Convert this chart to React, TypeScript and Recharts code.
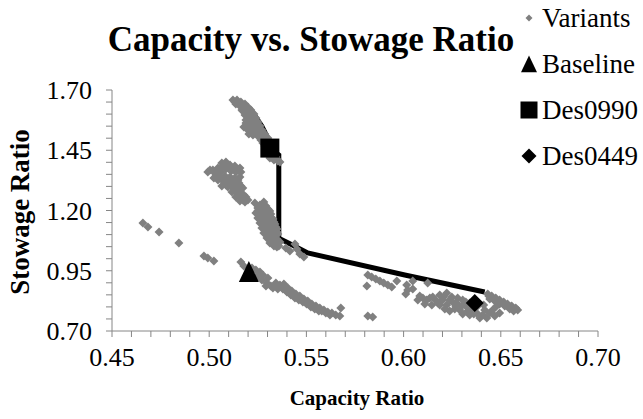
import { ScatterChart, Scatter, XAxis, YAxis } from "recharts";

// tick positions (minor every 0.01 / 0.05) and which ones get a label
const xTicks = [0.45, 0.46, 0.47, 0.48, 0.49, 0.5, 0.51, 0.52, 0.53, 0.54, 0.55, 0.56, 0.57, 0.58, 0.59, 0.6, 0.61, 0.62, 0.63, 0.64, 0.65, 0.66, 0.67, 0.68, 0.69, 0.7];
const xLabels = [0.45, 0.5, 0.55, 0.6, 0.65, 0.7];
const yTicks = [0.7, 0.75, 0.8, 0.85, 0.9, 0.95, 1.0, 1.05, 1.1, 1.15, 1.2, 1.25, 1.3, 1.35, 1.4, 1.45, 1.5, 1.55, 1.6, 1.65, 1.7];
const yLabels = [0.7, 0.95, 1.2, 1.45, 1.7];

// variants, grouped by the clusters seen in the picture: [capacity, stowage]
const upperBand = [
  [0.5122, 1.6585], [0.5143, 1.6585], [0.5163, 1.6502], [0.5137, 1.6419], [0.5158, 1.6336], [0.5184, 1.6419],
  [0.5178, 1.6253], [0.5199, 1.6295], [0.5173, 1.6129], [0.5194, 1.6087], [0.5214, 1.617], [0.5209, 1.5963],
  [0.523, 1.6004], [0.5199, 1.5838], [0.5225, 1.5797], [0.524, 1.5838], [0.5189, 1.563], [0.5209, 1.5548],
  [0.523, 1.563], [0.525, 1.5672], [0.5178, 1.5465], [0.5199, 1.534], [0.5225, 1.5423], [0.5245, 1.5465],
  [0.5261, 1.5506], [0.5204, 1.5174], [0.5235, 1.5257], [0.5256, 1.5299], [0.5271, 1.534], [0.525, 1.5091],
  [0.5271, 1.5133], [0.5286, 1.5174], [0.5266, 1.4925], [0.5286, 1.4967], [0.5302, 1.5008], [0.5328, 1.4261],
  [0.5343, 1.422], [0.5353, 1.4054], [0.5132, 1.6502], [0.5153, 1.6419], [0.5173, 1.6378], [0.5168, 1.617],
  [0.5189, 1.617], [0.5184, 1.5963], [0.5204, 1.5921], [0.522, 1.6046], [0.522, 1.5714], [0.5204, 1.5714],
  [0.5189, 1.5755], [0.5235, 1.5506], [0.5214, 1.5423], [0.5194, 1.5506], [0.5245, 1.5216], [0.5225, 1.5133],
  [0.5214, 1.5299], [0.5261, 1.505], [0.5276, 1.48], [0.5286, 1.4676], [0.5302, 1.4427], [0.5312, 1.4178],
  [0.5333, 1.4095], [0.5364, 1.4012],
];

const leftBlob = [
  [0.4993, 1.3597], [0.5019, 1.368], [0.5045, 1.3763], [0.5065, 1.397], [0.5086, 1.4012], [0.5107, 1.3888],
  [0.5132, 1.3846], [0.5158, 1.3763], [0.5035, 1.3473], [0.506, 1.3597], [0.5086, 1.3722], [0.5112, 1.3639],
  [0.5137, 1.3597], [0.5163, 1.3597], [0.5055, 1.3348], [0.5081, 1.3431], [0.5107, 1.339], [0.5132, 1.3348],
  [0.5158, 1.339], [0.5076, 1.3182], [0.5101, 1.3182], [0.5127, 1.314], [0.5153, 1.314], [0.5096, 1.2975],
  [0.5122, 1.2933], [0.5148, 1.2892], [0.5173, 1.2933], [0.5117, 1.2767], [0.5143, 1.2726], [0.5168, 1.2684],
  [0.5137, 1.256], [0.5163, 1.2518], [0.5189, 1.256], [0.5158, 1.2394], [0.5184, 1.2352], [0.5065, 1.3016],
  [0.5024, 1.3348], [0.5004, 1.368], [0.5029, 1.3556], [0.5071, 1.3846], [0.5096, 1.3846], [0.5122, 1.3722],
  [0.5148, 1.368], [0.5045, 1.3265], [0.5071, 1.3307], [0.5096, 1.3265], [0.5122, 1.3265], [0.5148, 1.3265],
  [0.5086, 1.3058], [0.5112, 1.3058], [0.5137, 1.3016], [0.5163, 1.3016], [0.5132, 1.2809], [0.5158, 1.2809],
  [0.5153, 1.2601], [0.5178, 1.2643], [0.5173, 1.2435], [0.5199, 1.2435],
];

const centreBlob = [
  [0.5235, 1.2311], [0.5281, 1.2352], [0.525, 1.2103], [0.5276, 1.2103], [0.5302, 1.2062], [0.524, 1.1896],
  [0.5266, 1.1896], [0.5292, 1.1854], [0.5317, 1.1854], [0.525, 1.1688], [0.5276, 1.1688], [0.5302, 1.1647],
  [0.5328, 1.1647], [0.5261, 1.1481], [0.5286, 1.1481], [0.5312, 1.1439], [0.5338, 1.1439], [0.5271, 1.1273],
  [0.5297, 1.1273], [0.5322, 1.1232], [0.5348, 1.1232], [0.5281, 1.1066], [0.5307, 1.1066], [0.5333, 1.1024],
  [0.5353, 1.1024], [0.5297, 1.0858], [0.5322, 1.0858], [0.5348, 1.0817], [0.5312, 1.065], [0.5338, 1.065],
  [0.5364, 1.0692], [0.5333, 1.0526], [0.5358, 1.0526], [0.5394, 1.0443], [0.5415, 1.0319], [0.5441, 1.0609],
  [0.5466, 1.0194], [0.5487, 1.007], [0.5451, 1.0402], [0.5261, 1.2228], [0.5292, 1.2186], [0.525, 1.1979],
  [0.5281, 1.1979], [0.5312, 1.1979], [0.5261, 1.1771], [0.5292, 1.1771], [0.5317, 1.173], [0.5271, 1.1564],
  [0.5302, 1.1564], [0.5333, 1.1522], [0.5281, 1.1356], [0.5312, 1.1356], [0.5343, 1.1315], [0.5292, 1.1149],
  [0.5322, 1.1149], [0.5348, 1.1107], [0.5307, 1.0941], [0.5338, 1.0941], [0.5322, 1.0734], [0.5353, 1.0734],
  [0.5348, 1.0485],
];

const sparseTail = [
  [0.4659, 1.1481], [0.4685, 1.1315], [0.4742, 1.1107], [0.4844, 1.065], [0.4973, 1.0111], [0.4993, 1.0028],
  [0.5024, 0.9904],
];

const lowerBand = [
  [0.5163, 0.9862], [0.5178, 0.9696], [0.524, 0.953], [0.5261, 0.9447], [0.5276, 0.9323], [0.525, 0.9281],
  [0.5271, 0.9115], [0.5297, 0.899], [0.5317, 0.8866], [0.5292, 0.8866], [0.5343, 0.899], [0.5364, 0.8908],
  [0.5384, 0.8949], [0.5353, 0.8742], [0.5379, 0.8742], [0.5405, 0.8783], [0.54, 0.8617], [0.5425, 0.8659],
  [0.542, 0.8493], [0.5446, 0.8534], [0.5466, 0.8451], [0.5441, 0.8368], [0.5461, 0.8285], [0.5487, 0.8327],
  [0.5482, 0.8202], [0.5507, 0.8244], [0.5502, 0.8119], [0.5528, 0.8119], [0.5523, 0.7995], [0.5549, 0.8036],
  [0.5543, 0.7912], [0.5569, 0.7953], [0.5564, 0.7829], [0.559, 0.787], [0.561, 0.7787], [0.5631, 0.7746],
  [0.5651, 0.7663], [0.5672, 0.7621], [0.5677, 0.7953], [0.5816, 0.7621], [0.5841, 0.758], [0.5328, 0.8783],
  [0.5353, 0.8866], [0.5374, 0.8825], [0.5394, 0.87], [0.5415, 0.8576], [0.5436, 0.8451], [0.5456, 0.8368],
  [0.5477, 0.8285], [0.5497, 0.8161], [0.5518, 0.8078], [0.5538, 0.7995], [0.5559, 0.7912], [0.5579, 0.7829],
  [0.56, 0.7746], [0.5621, 0.7663], [0.522, 0.9613], [0.5302, 0.9198],
];

const rightGroup = [
  [0.5816, 0.9323], [0.5836, 0.924], [0.5857, 0.9157], [0.5878, 0.9074], [0.5898, 0.899], [0.5919, 0.8908],
  [0.5939, 0.8825], [0.5811, 0.8866], [0.5965, 0.9074], [0.6016, 0.8908], [0.6047, 0.9074], [0.6124, 0.899],
  [0.6021, 0.87], [0.6047, 0.8742], [0.6011, 0.8534], [0.6073, 0.8285], [0.6099, 0.8368], [0.6119, 0.8285],
  [0.615, 0.841], [0.6186, 0.8493], [0.6222, 0.8576], [0.6248, 0.841], [0.6176, 0.8161], [0.6201, 0.8285],
  [0.6222, 0.8078], [0.6253, 0.8202], [0.6273, 0.8161], [0.6304, 0.8285], [0.6325, 0.7995], [0.6289, 0.787],
  [0.634, 0.8161], [0.6356, 0.7912], [0.6376, 0.7746], [0.6407, 0.7663], [0.6392, 0.7538], [0.6428, 0.7538],
  [0.6443, 0.7746], [0.6458, 0.787], [0.6494, 0.7746], [0.634, 0.7663], [0.6304, 0.7704], [0.6263, 0.7912],
  [0.6237, 0.7829], [0.6145, 0.8078], [0.6109, 0.8119], [0.6433, 0.8534], [0.6453, 0.8451], [0.6474, 0.8368],
  [0.6494, 0.8285], [0.6515, 0.8202], [0.6535, 0.8119], [0.6556, 0.8036], [0.6577, 0.7953], [0.6587, 0.787],
  [0.6443, 0.8327], [0.6469, 0.8244], [0.6494, 0.8119], [0.652, 0.8036], [0.6546, 0.7912], [0.6566, 0.7829],
  [0.6083, 0.8451], [0.6135, 0.8368], [0.6165, 0.8285], [0.6206, 0.841], [0.6237, 0.8285], [0.6278, 0.8368],
  [0.632, 0.8202], [0.6299, 0.8036], [0.6268, 0.8036], [0.633, 0.7829], [0.6361, 0.7704], [0.6417, 0.787],
  [0.6469, 0.7621], [0.6412, 0.8078], [0.6212, 0.7912], [0.6186, 0.8078], [0.6381, 0.8036], [0.6479, 0.8036],
  [0.6438, 0.8451], [0.6458, 0.8368], [0.6479, 0.8285], [0.6499, 0.8202], [0.6525, 0.8078], [0.6551, 0.7995],
  [0.6571, 0.7912],
];

// non-dominated front, drawn as a thick black line
const frontier = [
  [0.5209, 1.625], [0.5271, 1.55], [0.5302, 1.5], [0.5312, 1.459], [0.5358, 1.43], [0.5358, 1.085],
  [0.542, 1.06], [0.5507, 1.024], [0.6006, 0.9323], [0.6417, 0.862],
];

const baseline = [[0.5204, 0.941]];
const des0990 = [[0.5312, 1.459]];
const des0449 = [[0.6366, 0.816]];

const toPts = (arr: number[][]) => arr.map(([x, y]) => ({ x, y }));
const variants = toPts([...upperBand, ...leftBlob, ...centreBlob, ...sparseTail, ...lowerBand, ...rightGroup]);

const serif = "'Liberation Serif', 'Times New Roman', serif";

const Diamond = ({ cx, cy, r, fill }: any) => (
  <polygon points={`${cx},${cy - r} ${cx + r},${cy} ${cx},${cy + r} ${cx - r},${cy}`} fill={fill} />
);
const Triangle = ({ cx, cy, w, fill }: any) => (
  <polygon points={`${cx},${cy - w * 0.6} ${cx + w / 2},${cy + w * 0.45} ${cx - w / 2},${cy + w * 0.45}`} fill={fill} />
);
const Square = ({ cx, cy, s, fill }: any) => <rect x={cx - s / 2} y={cy - s / 2} width={s} height={s} fill={fill} />;

const fmt = (labels: number[]) => (v: number) => (labels.some((m) => Math.abs(m - v) < 1e-6) ? v.toFixed(2) : "");

const legendItems = [
  { name: "Variants", icon: <Diamond cx={9} cy={10} r={3.5} fill="#808080" /> },
  { name: "Baseline", icon: <Triangle cx={9} cy={11} w={16} fill="#000" /> },
  { name: "Des0990", icon: <Square cx={9} cy={10} s={17} fill="#000" /> },
  { name: "Des0449", icon: <Diamond cx={9} cy={10} r={7.5} fill="#000" /> },
];

export default function App() {
  return (
    <div style={{ position: "absolute", left: 0, top: 0, width: 643, height: 419, background: "#fff", fontFamily: serif }}>
      <ScatterChart width={643} height={419} margin={{ top: 90, right: 45, bottom: 38, left: 0 }}>
        <XAxis
          type="number"
          dataKey="x"
          domain={[0.45, 0.7]}
          ticks={xTicks}
          interval={0}
          tickFormatter={fmt(xLabels)}
          height={50}
          tickSize={6}
          tickMargin={11}
          stroke="#868686"
          tick={{ fill: "#000", fontSize: 26, fontFamily: serif }}
          allowDataOverflow
        />
        <YAxis
          type="number"
          dataKey="y"
          domain={[0.7, 1.7]}
          ticks={yTicks}
          interval={0}
          tickFormatter={fmt(yLabels)}
          width={112}
          tickSize={6}
          tickMargin={14}
          stroke="#868686"
          tick={{ fill: "#000", fontSize: 26, fontFamily: serif }}
          allowDataOverflow
        />
        <Scatter
          data={toPts(frontier)}
          line={{ stroke: "#000", strokeWidth: 5 }}
          shape={() => <g />}
          isAnimationActive={false}
        />
        <Scatter
          data={variants}
          shape={(p: any) => <Diamond cx={p.cx} cy={p.cy} r={4.5} fill="#808080" />}
          isAnimationActive={false}
        />
        <Scatter
          data={toPts(baseline)}
          shape={(p: any) => <Triangle cx={p.cx} cy={p.cy} w={20} fill="#000" />}
          isAnimationActive={false}
        />
        <Scatter
          data={toPts(des0990)}
          shape={(p: any) => <Square cx={p.cx} cy={p.cy} s={19} fill="#000" />}
          isAnimationActive={false}
        />
        <Scatter
          data={toPts(des0449)}
          shape={(p: any) => <Diamond cx={p.cx} cy={p.cy} r={9} fill="#000" />}
          isAnimationActive={false}
        />
      </ScatterChart>

      <div style={{ position: "absolute", left: 0, width: 622, top: 19, textAlign: "center", fontWeight: "bold", fontSize: 35, lineHeight: "42px", fontFamily: serif }}>
        Capacity vs. Stowage Ratio
      </div>
      <div style={{ position: "absolute", left: 112, width: 490, top: 385, textAlign: "center", fontWeight: "bold", fontSize: 21, lineHeight: "26px", fontFamily: serif }}>
        Capacity Ratio
      </div>
      <div
        style={{
          position: "absolute",
          left: 20,
          top: 212,
          transform: "translate(-50%, -50%) rotate(-90deg)",
          whiteSpace: "nowrap",
          fontWeight: "bold",
          fontSize: 27,
          lineHeight: "30px",
          fontFamily: serif,
        }}
      >
        Stowage Ratio
      </div>

      {legendItems.map((it, i) => (
        <div key={it.name} style={{ position: "absolute", left: 520, top: 4 + i * 46, display: "flex", alignItems: "center", height: 28 }}>
          <svg width={20} height={20}>{it.icon}</svg>
          <span style={{ fontSize: 27, marginLeft: 2, fontFamily: serif }}>{it.name}</span>
        </div>
      ))}
    </div>
  );
}
